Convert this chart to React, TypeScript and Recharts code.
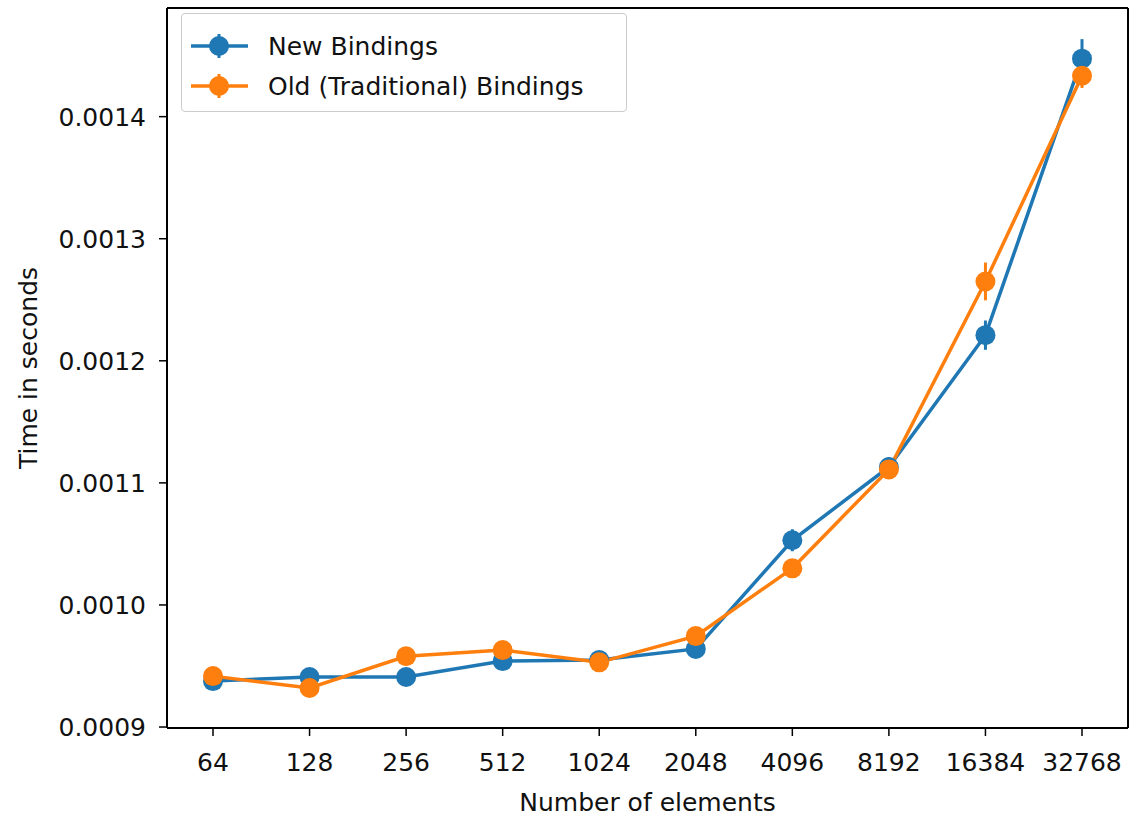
import { LineChart, Line, XAxis, YAxis, ErrorBar } from 'recharts';

const sizes = ['64', '128', '256', '512', '1024', '2048', '4096', '8192', '16384', '32768'];
const newTimes = [0.0009376, 0.000941, 0.000941, 0.000954, 0.000955, 0.000964, 0.001053, 0.001113, 0.001221, 0.0014475];
const newErrs = [0.000003, 0.000003, 0.000002, 0.000003, 0.000003, 0.000003, 0.000009, 0.000008, 0.000012, 0.000016];
const oldTimes = [0.0009417, 0.000932, 0.000958, 0.000963, 0.000953, 0.0009745, 0.00103, 0.001111, 0.001265, 0.0014335];
const oldErrs = [0.000003, 0.000003, 0.000003, 0.000003, 0.000002, 0.000003, 0.000003, 0.000007, 0.0000155, 0.00001];
const yTicks = [0.0009, 0.001, 0.0011, 0.0012, 0.0013, 0.0014];

const BLUE = '#1f77b4';
const ORANGE = '#ff7f0e';
const FONT = '"DejaVu Sans", sans-serif';

const data = sizes.map((s, i) => ({
  size: s,
  newT: newTimes[i],
  newE: newErrs[i],
  oldT: oldTimes[i],
  oldE: oldErrs[i],
}));

const legendItems = [
  { label: 'New Bindings', color: BLUE },
  { label: 'Old (Traditional) Bindings', color: ORANGE },
];

function LegendBox() {
  return (
    <div
      style={{
        position: 'absolute',
        left: 181,
        top: 13,
        width: 446,
        height: 99,
        border: '1px solid #cccccc',
        borderRadius: 4,
        background: 'rgba(255,255,255,0.8)',
        boxSizing: 'border-box',
        fontFamily: FONT,
        fontSize: 25,
        color: '#111',
      }}
    >
      {legendItems.map((it, i) => (
        <div key={it.label} style={{ position: 'absolute', left: 8, top: 13 + i * 40, display: 'flex', alignItems: 'center', height: 38 }}>
          <svg width={60} height={38}>
            <line x1={1} x2={58} y1={19} y2={19} stroke={it.color} strokeWidth={3.5} />
            <line x1={29} x2={29} y1={7} y2={31} stroke={it.color} strokeWidth={3} />
            <circle cx={29} cy={19} r={10} fill={it.color} />
          </svg>
          <span style={{ marginLeft: 18, whiteSpace: 'nowrap' }}>{it.label}</span>
        </div>
      ))}
    </div>
  );
}

const tickStyle = { fontFamily: FONT, fontSize: 25, fill: '#111' };

export default function App() {
  return (
    <div style={{ position: 'absolute', left: 0, top: 0, width: 1138, height: 817, background: '#fff' }}>
      <LineChart width={1138} height={817} data={data} margin={{ top: 0, right: 0, bottom: 0, left: 0 }}>
        <XAxis
          dataKey="size"
          height={89}
          padding={{ left: 46, right: 46 }}
          tick={tickStyle}
          tickSize={8}
          tickMargin={17}
          stroke="#000"
          axisLine={{ stroke: '#000', strokeWidth: 2 }}
          tickLine={{ stroke: '#000', strokeWidth: 1.5 }}
          interval={0}
          label={{ value: 'Number of elements', position: 'insideBottom', offset: 6, style: { ...tickStyle } }}
        />
        <XAxis xAxisId="top" dataKey="size" orientation="top" height={8} tick={false} tickLine={false} axisLine={{ stroke: '#000', strokeWidth: 2 }} />
        <YAxis
          width={167}
          domain={[0.0008992, 0.001489]}
          ticks={yTicks}
          tickFormatter={(v: number) => v.toFixed(4)}
          tick={tickStyle}
          tickSize={8}
          tickMargin={13}
          axisLine={{ stroke: '#000', strokeWidth: 2 }}
          tickLine={{ stroke: '#000', strokeWidth: 1.5 }}
          allowDataOverflow
          label={{ value: 'Time in seconds', angle: -90, position: 'insideLeft', offset: 28, style: { ...tickStyle, textAnchor: 'middle' } }}
        />
        <YAxis yAxisId="right" orientation="right" width={10} domain={[0.0008992, 0.001489]} tick={false} tickLine={false} axisLine={{ stroke: '#000', strokeWidth: 2 }} />
        <Line
          dataKey="newT"
          stroke={BLUE}
          strokeWidth={3.5}
          dot={{ r: 10, fill: BLUE, stroke: BLUE, strokeWidth: 0 }}
          activeDot={false}
          isAnimationActive={false}
        >
          <ErrorBar dataKey="newE" direction="y" width={0} stroke={BLUE} strokeWidth={3} isAnimationActive={false} />
        </Line>
        <Line
          dataKey="oldT"
          stroke={ORANGE}
          strokeWidth={3.5}
          dot={{ r: 10, fill: ORANGE, stroke: ORANGE, strokeWidth: 0 }}
          activeDot={false}
          isAnimationActive={false}
        >
          <ErrorBar dataKey="oldE" direction="y" width={0} stroke={ORANGE} strokeWidth={3} isAnimationActive={false} />
        </Line>
      </LineChart>
      <LegendBox />
    </div>
  );
}
